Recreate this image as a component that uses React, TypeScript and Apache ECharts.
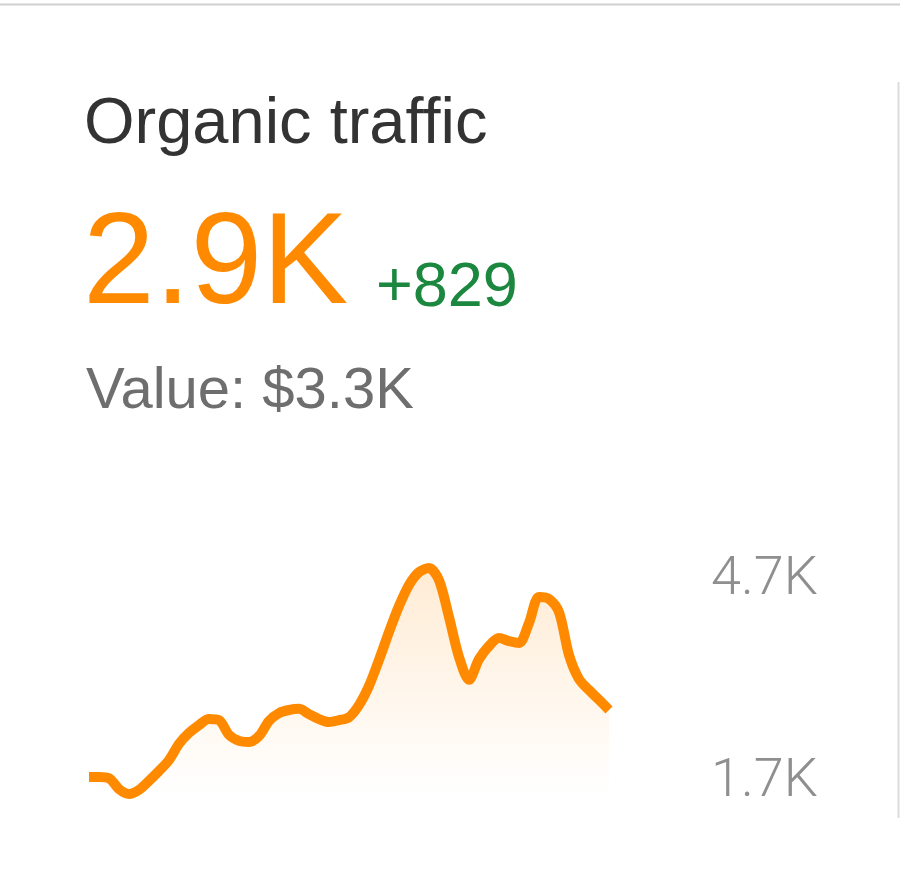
import React, { useEffect, useRef } from "react";
import * as echarts from "echarts";

// Organic traffic, one value per period (read from the sparkline)
const trafficValues = [
  1925, 1925, 1910, 1765, 1700, 1755, 1875, 2005, 2150, 2365,
  2510, 2615, 2695, 2680, 2485, 2405, 2390, 2470, 2670, 2775,
  2815, 2830, 2760, 2695, 2655, 2680, 2720, 2880, 3135, 3480,
  3850, 4195, 4475, 4645, 4700, 4540, 4050, 3520, 3215, 3490,
  3665, 3770, 3730, 3705, 3970, 4315, 4290, 4115, 3545, 3225,
  3080, 2950, 2815,
];
const periods = trafficValues.map((_, i) => String(i + 1));

const yTickValues = [1700, 4700];
const yTickLabels = ["1.7K", "4.7K"];

const headerTitle = "Organic traffic";
const headerValue = "2.9K";
const headerChange = "+829";
const headerWorth = "Value: $3.3K";

const ORANGE = "#ff8a00";

export default function App() {
  const ref = useRef<HTMLDivElement>(null);

  useEffect(() => {
    if (!ref.current) return;
    const chart = echarts.init(ref.current, undefined, { renderer: "svg" });
    chart.setOption({
      animation: false,
      backgroundColor: "#ffffff",
      grid: { left: 89, right: 291, top: 568, bottom: 79, containLabel: false },
      xAxis: {
        type: "category",
        data: periods,
        boundaryGap: false,
        show: false,
      },
      yAxis: {
        type: "value",
        position: "right",
        min: yTickValues[0],
        max: yTickValues[1],
        interval: yTickValues[1] - yTickValues[0],
        splitLine: { show: false },
        axisLine: { show: false },
        axisTick: { show: false },
        axisLabel: {
          margin: 102,
          formatter: (v: number) => {
            const idx = yTickValues.indexOf(v);
            if (idx < 0) return "";
            return idx === 1 ? `{hi|${yTickLabels[idx]}}` : `{lo|${yTickLabels[idx]}}`;
          },
          rich: {
            hi: {
              fontFamily: "Roboto",
              fontWeight: 300,
              fontSize: 54,
              color: "#8f8f8f",
              padding: [15, 0, 0, 0],
            },
            lo: {
              fontFamily: "Roboto",
              fontWeight: 300,
              fontSize: 54,
              color: "#8f8f8f",
              padding: [0, 0, 34, 0],
            },
          },
        },
      },
      series: [
        {
          type: "line",
          data: trafficValues,
          symbol: "none",
          smooth: 0.3,
          clip: false,
          lineStyle: { color: ORANGE, width: 10, cap: "butt", join: "round" },
          areaStyle: {
            color: new echarts.graphic.LinearGradient(0, 0, 0, 1, [
              { offset: 0, color: "rgba(255,138,0,0.24)" },
              { offset: 1, color: "rgba(255,138,0,0)" },
            ]),
          },
        },
      ],
      graphic: [
        {
          type: "line",
          shape: { x1: 0, y1: 4.5, x2: 900, y2: 4.5 },
          style: { stroke: "#cfcfcf", lineWidth: 2 },
        },
        {
          type: "line",
          shape: { x1: 898.5, y1: 82, x2: 898.5, y2: 818 },
          style: { stroke: "#dcdcdc", lineWidth: 2 },
        },
        {
          type: "text",
          x: 84,
          y: 120.5,
          style: {
            text: headerTitle,
            font: '400 65px "Liberation Sans", Arial, sans-serif',
            fill: "#333333",
            align: "left",
            verticalAlign: "middle",
          },
        },
        {
          type: "text",
          x: 83,
          y: 258,
          style: {
            text: headerValue,
            font: '400 129px "Liberation Sans", Arial, sans-serif',
            fill: ORANGE,
            align: "left",
            verticalAlign: "middle",
          },
        },
        {
          type: "text",
          x: 376,
          y: 283.5,
          style: {
            text: headerChange,
            font: '400 63px "Liberation Sans", Arial, sans-serif',
            fill: "#1b873f",
            align: "left",
            verticalAlign: "middle",
          },
        },
        {
          type: "text",
          x: 86,
          y: 387,
          style: {
            text: headerWorth,
            font: '400 58px "Liberation Sans", Arial, sans-serif',
            fill: "#6e6e6e",
            align: "left",
            verticalAlign: "middle",
          },
        },
      ],
    });
    return () => chart.dispose();
  }, []);

  return (
    <div
      ref={ref}
      style={{ position: "fixed", left: 0, top: 0, width: 900, height: 873 }}
    />
  );
}
